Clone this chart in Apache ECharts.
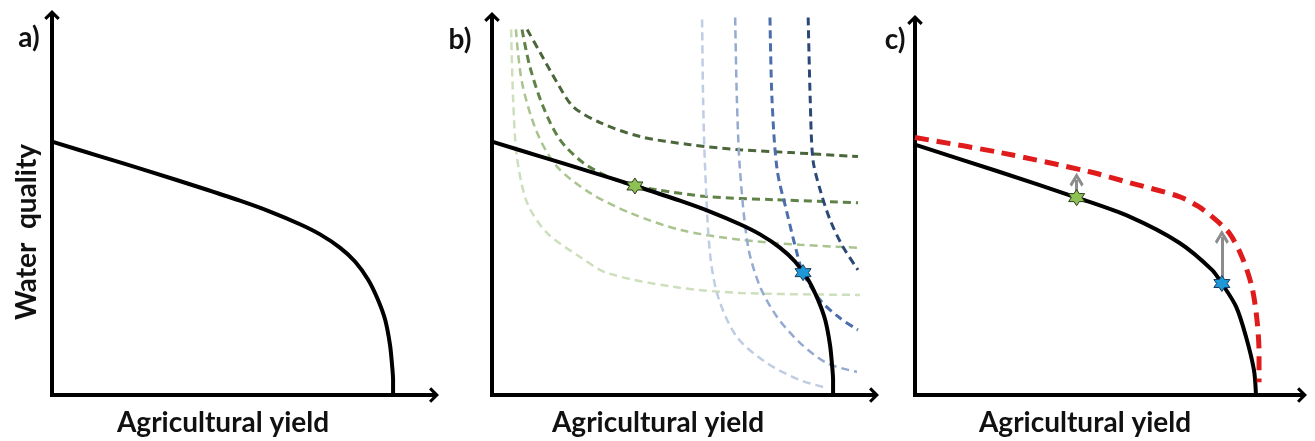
<!DOCTYPE html>
<html>
<head>
<meta charset="utf-8">
<script src="https://cdn.jsdelivr.net/npm/echarts@6/dist/echarts.min.js"></script>
<style>
  html, body { margin: 0; padding: 0; background: #fff; }
  #main { width: 1315px; height: 441px; }
</style>
</head>
<body>
<div id="main"></div>
<script>
// production possibility frontier, panels a) and b)
var frontier = [[0, 10], [1.41, 9.42], [2.87, 8.82], [4.34, 8.19], [5.51, 7.67], [6.39, 7.24],
  [7.27, 6.74], [7.86, 6.34], [8.45, 5.81], [8.89, 5.26], [9.27, 4.55], [9.56, 3.75], [9.77, 2.96],
  [9.91, 1.98], [9.97, 1.19], [10, 0.59], [10, 0]];

// frontier of panel c) and the improved (red dashed) frontier
var frontierC = [[0, 9.88], [2.4, 8.84], [4.74, 7.79], [6.29, 7.04], [7.75, 6.01], [8.71, 4.94],
  [9.0, 4.40], [9.42, 3.48], [9.71, 2.29], [9.94, 0.99], [10, 0]];
var improvedC = [[0, 10.16], [2.49, 9.57], [5.12, 8.81], [6.29, 8.38], [7.75, 7.83], [8.3, 7.45],
  [8.71, 7.04], [9.21, 6.40], [9.59, 5.45], [9.88, 4.27], [10.03, 2.96], [10.09, 1.66], [10.09, 0.5]];

// indifference curves in panel b), darkest first
var green1 = [[1.03, 14.43], [1.41, 13.52], [1.91, 12.33], [2.38, 11.38], [3.17, 10.75], [4.34, 10.20],
  [5.81, 9.88], [7.27, 9.68], [8.74, 9.57], [10.73, 9.41]];
var green2 = [[0.88, 14.43], [1.11, 12.96], [1.50, 11.38], [1.99, 10.08], [2.67, 9.17], [3.46, 8.58],
  [4.19, 8.26], [4.84, 8.10], [6.30, 7.83], [8.24, 7.71], [10.73, 7.59]];
var green3 = [[0.70, 14.43], [0.88, 12.33], [1.32, 10.36], [1.91, 9.01], [2.87, 7.98], [4.05, 7.19],
  [5.51, 6.52], [7.27, 6.13], [9.03, 5.93], [10.79, 5.81]];
var green4 = [[0.56, 14.43], [0.62, 11.66], [0.73, 9.41], [1.03, 7.59], [1.61, 6.40], [2.58, 5.45],
  [3.37, 4.82], [5.31, 4.27], [7.27, 4.03], [10.79, 3.95]];
var blue1 = [[9.27, 14.9], [9.33, 11.66], [9.41, 9.29], [9.62, 8.10], [9.91, 6.92], [10.29, 5.85], [10.73, 4.94]];
var blue2 = [[8.15, 14.9], [8.21, 11.66], [8.36, 8.89], [8.65, 7.19], [8.94, 5.61], [9.12, 4.82],
  [9.62, 3.75], [10.20, 3.04], [10.73, 2.57]];
var blue3 = [[7.13, 14.9], [7.18, 11.66], [7.27, 8.89], [7.51, 5.85], [7.86, 4.27], [8.36, 3.08],
  [9.03, 2.06], [9.82, 1.26], [10.70, 0.91]];
var blue4 = [[6.16, 14.82], [6.19, 11.66], [6.25, 8.89], [6.39, 5.61], [6.63, 3.87], [7.18, 2.29],
  [8.06, 1.26], [9.03, 0.59], [9.82, 0.28]];

// optimum points
var greenStarB = [4.19, 8.25];
var blueStarB = [9.12, 4.83];
var greenStarC = [4.74, 7.79];
var blueStarC = [9.0, 4.40];

// shift arrows in panel c)
var shiftArrows = [[[4.74, 7.79], [4.74, 8.5]], [[9.0, 4.40], [9.0, 6.24]]];

var greenCurves = [green1, green2, green3, green4];
var greenColors = ['#4b663a', '#5f8247', '#a9c48f', '#cddfbc'];
var blueCurves = [blue1, blue2, blue3, blue4];
var blueColors = ['#2c4877', '#4d6ead', '#94aad0', '#bfcde4'];

var axisArrow = 'path://M10,0L20,10L17.2,12.8L10,5.6L2.8,12.8L0,10Z';
var grayArrow = 'path://M10,0L20,12L17,14.5L10,6L3,14.5L0,12Z';
var star = 'path://M50,0L64.43,25L93.3,25L78.87,50L93.3,75L64.43,75L50,100L35.57,75L6.7,75L21.13,50L6.7,25L35.57,25Z';

var chart = echarts.init(document.getElementById('main'));

function axis(idx, max) {
  return {
    type: 'value', gridIndex: idx, min: 0, max: max,
    axisLine: {
      show: true, onZero: false,
      symbol: ['none', axisArrow], symbolSize: [18, 10],
      lineStyle: { color: '#000', width: 4, cap: 'square' }
    },
    axisTick: { show: false }, axisLabel: { show: false }, splitLine: { show: false }
  };
}

function curve(data, idx, color, width, dash, z) {
  return {
    type: 'line', xAxisIndex: idx, yAxisIndex: idx, data: data,
    showSymbol: false, smooth: 0.3, silent: true, z: z,
    lineStyle: { color: color, width: width, type: dash }
  };
}

function starSeries(point, idx, fill, border) {
  return {
    type: 'scatter', xAxisIndex: idx, yAxisIndex: idx, data: [point],
    symbol: star, symbolSize: 16, z: 10, silent: true,
    itemStyle: { color: fill, borderColor: border, borderWidth: 1, opacity: 1 }
  };
}

var series = [];
series.push(curve(frontier, 0, '#000', 4, 'solid', 5));
greenCurves.forEach(function (d, i) {
  series.push(curve(d, 1, greenColors[i], i < 2 ? 3 : 2.5, [8, 5], 2));
});
blueCurves.forEach(function (d, i) {
  series.push(curve(d, 1, blueColors[i], i < 2 ? 3 : 2.5, [8, 5], 2));
});
series.push(curve(frontier, 1, '#000', 4, 'solid', 5));
series.push(starSeries(greenStarB, 1, '#8dc153', '#2b3a1c'));
series.push(starSeries(blueStarB, 1, '#1e98d6', '#183a5c'));

series.push(curve(frontierC, 2, '#000', 4, 'solid', 5));
series.push(curve(improvedC, 2, '#e01b1b', 5, [14, 8], 6));
series.push({
  type: 'lines', coordinateSystem: 'cartesian2d', xAxisIndex: 2, yAxisIndex: 2, z: 7, silent: true,
  symbol: ['none', grayArrow], symbolSize: 14,
  lineStyle: { color: '#8c8c8c', width: 3, opacity: 1, curveness: 0 },
  data: shiftArrows.map(function (c) { return { coords: c }; })
});
series.push(starSeries(greenStarC, 2, '#8dc153', '#2b3a1c'));
series.push(starSeries(blueStarC, 2, '#1e98d6', '#183a5c'));

function label(text, x, y, size, rot) {
  return {
    type: 'text', x: x, y: y, rotation: rot || 0, silent: true,
    style: {
      text: text, fill: '#111', fontFamily: 'Lato', fontWeight: 'bold', fontSize: size,
      align: 'center', verticalAlign: 'middle'
    }
  };
}

var option = {
  animation: false,
  backgroundColor: '#fff',
  grid: [
    { left: 52, top: 15, width: 382, height: 380 },
    { left: 492, top: 17, width: 382, height: 378 },
    { left: 915, top: 20, width: 387, height: 375 }
  ],
  xAxis: [axis(0, 11.2), axis(1, 11.2), axis(2, 11.35)],
  yAxis: [axis(0, 15.0), axis(1, 14.92), axis(2, 14.8)],
  graphic: [
    label('a)', 29, 38, 28),
    label('b)', 460, 40, 28),
    label('c)', 895, 40, 28),
    label('Water  quality', 27, 232, 28, Math.PI / 2),
    label('Agricultural yield', 223, 423, 28),
    label('Agricultural yield', 658, 423, 28),
    label('Agricultural yield', 1085, 423, 28)
  ],
  series: series
};

chart.setOption(option);
</script>
</body>
</html>
